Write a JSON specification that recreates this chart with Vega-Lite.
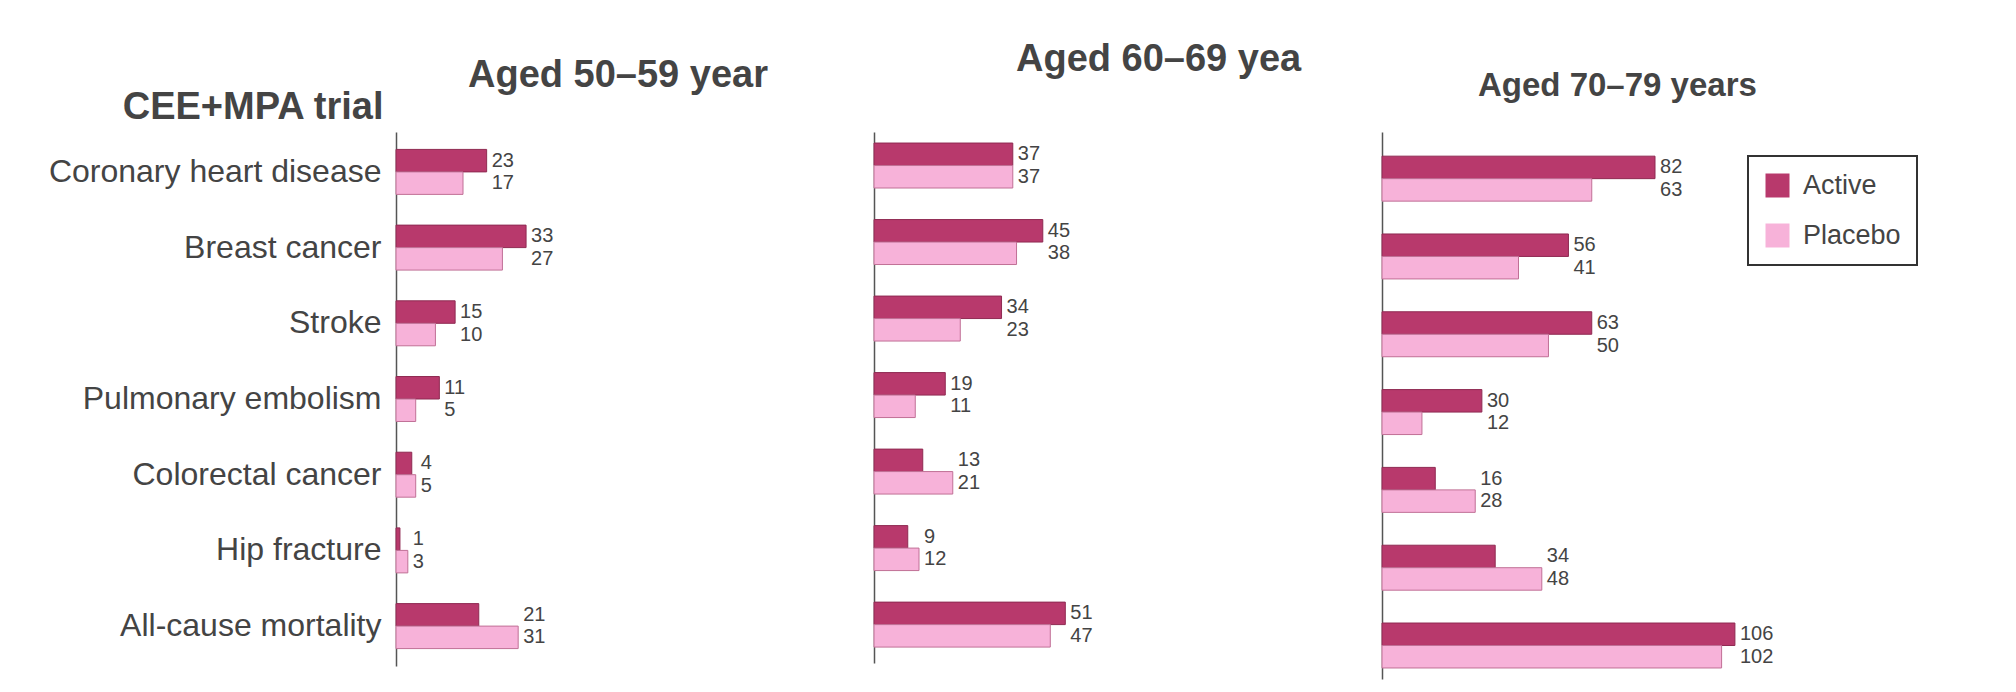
{
  "$schema": "https://vega.github.io/schema/vega-lite/v6.json",
  "background": "white",
  "padding": {"left": 48, "top": 41, "right": 5, "bottom": 5},
  "bounds": "flush",
  "spacing": 20,
  "config": {
    "view": {"stroke": null},
    "font": "Liberation Sans",
    "legend": {"strokeWidth": 2}
  },
  "datasets": {
    "d": [
      {"panel": "p1", "outcome": "Coronary heart disease", "group": "Active", "value": 23},
      {"panel": "p1", "outcome": "Coronary heart disease", "group": "Placebo", "value": 17},
      {"panel": "p1", "outcome": "Breast cancer", "group": "Active", "value": 33},
      {"panel": "p1", "outcome": "Breast cancer", "group": "Placebo", "value": 27},
      {"panel": "p1", "outcome": "Stroke", "group": "Active", "value": 15},
      {"panel": "p1", "outcome": "Stroke", "group": "Placebo", "value": 10},
      {"panel": "p1", "outcome": "Pulmonary embolism", "group": "Active", "value": 11},
      {"panel": "p1", "outcome": "Pulmonary embolism", "group": "Placebo", "value": 5},
      {"panel": "p1", "outcome": "Colorectal cancer", "group": "Active", "value": 4},
      {"panel": "p1", "outcome": "Colorectal cancer", "group": "Placebo", "value": 5},
      {"panel": "p1", "outcome": "Hip fracture", "group": "Active", "value": 1},
      {"panel": "p1", "outcome": "Hip fracture", "group": "Placebo", "value": 3},
      {"panel": "p1", "outcome": "All-cause mortality", "group": "Active", "value": 21},
      {"panel": "p1", "outcome": "All-cause mortality", "group": "Placebo", "value": 31},
      {"panel": "p2", "outcome": "Coronary heart disease", "group": "Active", "value": 37},
      {"panel": "p2", "outcome": "Coronary heart disease", "group": "Placebo", "value": 37},
      {"panel": "p2", "outcome": "Breast cancer", "group": "Active", "value": 45},
      {"panel": "p2", "outcome": "Breast cancer", "group": "Placebo", "value": 38},
      {"panel": "p2", "outcome": "Stroke", "group": "Active", "value": 34},
      {"panel": "p2", "outcome": "Stroke", "group": "Placebo", "value": 23},
      {"panel": "p2", "outcome": "Pulmonary embolism", "group": "Active", "value": 19},
      {"panel": "p2", "outcome": "Pulmonary embolism", "group": "Placebo", "value": 11},
      {"panel": "p2", "outcome": "Colorectal cancer", "group": "Active", "value": 13},
      {"panel": "p2", "outcome": "Colorectal cancer", "group": "Placebo", "value": 21},
      {"panel": "p2", "outcome": "Hip fracture", "group": "Active", "value": 9},
      {"panel": "p2", "outcome": "Hip fracture", "group": "Placebo", "value": 12},
      {"panel": "p2", "outcome": "All-cause mortality", "group": "Active", "value": 51},
      {"panel": "p2", "outcome": "All-cause mortality", "group": "Placebo", "value": 47},
      {"panel": "p3", "outcome": "Coronary heart disease", "group": "Active", "value": 82},
      {"panel": "p3", "outcome": "Coronary heart disease", "group": "Placebo", "value": 63},
      {"panel": "p3", "outcome": "Breast cancer", "group": "Active", "value": 56},
      {"panel": "p3", "outcome": "Breast cancer", "group": "Placebo", "value": 41},
      {"panel": "p3", "outcome": "Stroke", "group": "Active", "value": 63},
      {"panel": "p3", "outcome": "Stroke", "group": "Placebo", "value": 50},
      {"panel": "p3", "outcome": "Pulmonary embolism", "group": "Active", "value": 30},
      {"panel": "p3", "outcome": "Pulmonary embolism", "group": "Placebo", "value": 12},
      {"panel": "p3", "outcome": "Colorectal cancer", "group": "Active", "value": 16},
      {"panel": "p3", "outcome": "Colorectal cancer", "group": "Placebo", "value": 28},
      {"panel": "p3", "outcome": "Hip fracture", "group": "Active", "value": 34},
      {"panel": "p3", "outcome": "Hip fracture", "group": "Placebo", "value": 48},
      {"panel": "p3", "outcome": "All-cause mortality", "group": "Active", "value": 106},
      {"panel": "p3", "outcome": "All-cause mortality", "group": "Placebo", "value": 102}
    ]
  },
  "resolve": {"scale": {"color": "independent", "x": "independent", "y": "independent"}, "legend": {"color": "independent"}},
  "hconcat": [
    {
      "width": 458, "height": 534,
      "data": {"name": "d"},
      "transform": [
        {"filter": "datum.panel == 'p1'"},
        {"joinaggregate": [{"op": "max", "field": "value", "as": "maxv"}], "groupby": ["outcome"]}
      ],
      "title": {"text": "Aged 50–59 year", "frame": "group", "anchor": "start", "dx": 72, "dy": 6, "offset": -30, "baseline": "alphabetic", "fontSize": 38, "fontWeight": "bold", "color": "#444"},
      "encoding": {
        "y": {"field": "outcome", "type": "nominal",
          "sort": ["Coronary heart disease", "Breast cancer", "Stroke", "Pulmonary embolism", "Colorectal cancer", "Hip fracture", "All-cause mortality"],
          "scale": {"paddingInner": 0.406, "paddingOuter": 0.23, "align": 0.5},
          "axis": {"title": "CEE+MPA trial", "titleAngle": 0, "titleAlign": "right", "titleBaseline": "alphabetic", "titleX": -13, "titleY": -13.5, "titleFontSize": 38, "titleFontWeight": "bold", "titleColor": "#444", "labelFontSize": 32, "labelColor": "#444", "labelPadding": 15, "ticks": false, "domainColor": "#555", "domainWidth": 1.5, "labelLimit": 600}},
        "yOffset": {"field": "group", "type": "nominal", "sort": ["Active", "Placebo"], "scale": {"paddingInner": 0, "paddingOuter": 0}}
      },
      "layer": [
        {"mark": {"type": "bar", "strokeWidth": 1},
         "encoding": {
           "x": {"field": "value", "type": "quantitative", "scale": {"domain": [0, 116.2], "nice": false}, "axis": null},
           "color": {"field": "group", "type": "nominal", "scale": {"domain": ["Active", "Placebo"], "range": ["#b8396c", "#f7b2d9"]}, "legend": null},
           "stroke": {"condition": {"test": "datum.group == 'Active'", "value": "#8f2a52"}, "value": "#c07096"}
         }},
        {"mark": {"type": "text", "align": "left", "baseline": "middle", "dx": 5, "fontSize": 20, "color": "#444"},
         "encoding": {
           "x": {"field": "maxv", "type": "quantitative"},
           "text": {"field": "value", "type": "quantitative"}
         }}
      ]
    },
    {
      "width": 488, "height": 531,
      "data": {"name": "d"},
      "transform": [
        {"filter": "datum.panel == 'p2'"},
        {"joinaggregate": [{"op": "max", "field": "value", "as": "maxv"}], "groupby": ["outcome"]}
      ],
      "title": {"text": "Aged 60–69 yea", "frame": "group", "anchor": "start", "dx": 142, "offset": 23, "baseline": "alphabetic", "fontSize": 38, "fontWeight": "bold", "color": "#444"},
      "encoding": {
        "y": {"field": "outcome", "type": "nominal",
          "sort": ["Coronary heart disease", "Breast cancer", "Stroke", "Pulmonary embolism", "Colorectal cancer", "Hip fracture", "All-cause mortality"],
          "scale": {"paddingInner": 0.412, "paddingOuter": 0.176, "align": 0.41},
          "axis": {"title": null, "labels": false, "ticks": false, "domainColor": "#555", "domainWidth": 1.5}},
        "yOffset": {"field": "group", "type": "nominal", "sort": ["Active", "Placebo"], "scale": {"paddingInner": 0, "paddingOuter": 0}}
      },
      "layer": [
        {"mark": {"type": "bar", "strokeWidth": 1},
         "encoding": {
           "x": {"field": "value", "type": "quantitative", "scale": {"domain": [0, 130.1], "nice": false}, "axis": null},
           "color": {"field": "group", "type": "nominal", "scale": {"domain": ["Active", "Placebo"], "range": ["#b8396c", "#f7b2d9"]}, "legend": null},
           "stroke": {"condition": {"test": "datum.group == 'Active'", "value": "#8f2a52"}, "value": "#c07096"}
         }},
        {"mark": {"type": "text", "align": "left", "baseline": "middle", "dx": 5, "fontSize": 20, "color": "#444"},
         "encoding": {
           "x": {"field": "maxv", "type": "quantitative"},
           "text": {"field": "value", "type": "quantitative"}
         }}
      ]
    },
    {
      "width": 560, "height": 547,
      "data": {"name": "d"},
      "transform": [
        {"filter": "datum.panel == 'p3'"},
        {"joinaggregate": [{"op": "max", "field": "value", "as": "maxv"}], "groupby": ["outcome"]}
      ],
      "title": {"text": "Aged 70–79 years", "frame": "group", "anchor": "start", "dx": 96, "offset": 3, "baseline": "alphabetic", "fontSize": 33, "fontWeight": "bold", "color": "#444"},
      "encoding": {
        "y": {"field": "outcome", "type": "nominal",
          "sort": ["Coronary heart disease", "Breast cancer", "Stroke", "Pulmonary embolism", "Colorectal cancer", "Hip fracture", "All-cause mortality"],
          "scale": {"paddingInner": 0.42, "paddingOuter": 0.225, "align": 0.69},
          "axis": {"title": null, "labels": false, "ticks": false, "domainColor": "#555", "domainWidth": 1.5}},
        "yOffset": {"field": "group", "type": "nominal", "sort": ["Active", "Placebo"], "scale": {"paddingInner": 0, "paddingOuter": 0}}
      },
      "layer": [
        {"mark": {"type": "bar", "strokeWidth": 1},
         "encoding": {
           "x": {"field": "value", "type": "quantitative", "scale": {"domain": [0, 168.2], "nice": false}, "axis": null},
           "color": {"field": "group", "type": "nominal", "scale": {"domain": ["Active", "Placebo"], "range": ["#b8396c", "#f7b2d9"]},
             "legend": {"title": null, "orient": "none", "legendX": 366, "legendY": 24, "symbolType": "square", "symbolSize": 576, "symbolStrokeWidth": 0, "labelFontSize": 27, "labelColor": "#444", "labelOffset": 12, "rowPadding": 22, "padding": 16, "strokeColor": "#333", "fillColor": "white"}},
           "stroke": {"condition": {"test": "datum.group == 'Active'", "value": "#8f2a52"}, "value": "#c07096"}
         }},
        {"mark": {"type": "text", "align": "left", "baseline": "middle", "dx": 5, "fontSize": 20, "color": "#444"},
         "encoding": {
           "x": {"field": "maxv", "type": "quantitative"},
           "text": {"field": "value", "type": "quantitative"}
         }}
      ]
    }
  ]
}
